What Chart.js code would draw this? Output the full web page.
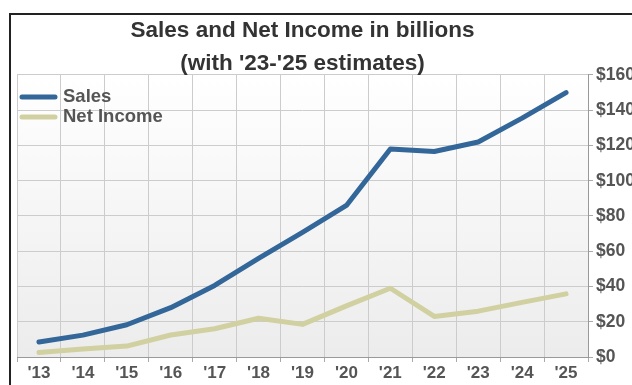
<!DOCTYPE html>
<html>
<head>
<meta charset="utf-8">
<script src="https://cdn.jsdelivr.net/npm/chart.js@4"></script>
<style>
  html, body { margin: 0; padding: 0; background: #fff; overflow: hidden; width: 632px; height: 385px; }
  #frame { position: absolute; left: 9px; top: 13px; width: 700px; height: 400px;
           border-left: 2px solid #222; border-top: 2px solid #222; }
  #chart { position: absolute; left: 0; top: 0; }
</style>
</head>
<body>
<div id="frame"></div>
<canvas id="chart" width="680" height="385"></canvas>
<script>
  // ── Veri ────────────────────────────────────────────────────────────────
  const years     = ["'13","'14","'15","'16","'17","'18","'19","'20","'21","'22","'23","'24","'25"];
  const sales     = [8.5, 12.4, 18.3, 28, 40.6, 56, 70.7, 86, 118, 116.6, 122, 135.5, 150];
  const netIncome = [2.5, 4.5, 6.2, 12.5, 16, 22, 18.5, 29, 39, 23, 26, 31, 35.8];
  const yTicks    = [0, 20, 40, 60, 80, 100, 120, 140, 160];

  const SALES_COLOR = "#336699";
  const NI_COLOR    = "#d1d0a0";
  const TEXT_GRAY   = "#555555";
  const FONT        = "'Liberation Sans', Arial, sans-serif";

  // plot alanı arka planı (beyaz → açık gri)
  const plotBg = {
    id: "plotBg",
    beforeDraw(chart) {
      const { ctx, chartArea: a } = chart;
      const g = ctx.createLinearGradient(0, a.top, 0, a.bottom);
      g.addColorStop(0, "#ffffff");
      g.addColorStop(1, "#ececec");
      ctx.save();
      ctx.fillStyle = g;
      ctx.fillRect(a.left, a.top, a.right - a.left, a.bottom - a.top);
      ctx.restore();
    },
  };

  // sol üstte grafik içi lejant
  const innerLegend = {
    id: "innerLegend",
    afterDatasetsDraw(chart) {
      const { ctx, chartArea: a } = chart;
      ctx.save();
      ctx.font = "bold 18.5px " + FONT;
      ctx.textBaseline = "middle";
      chart.data.datasets.forEach((ds, i) => {
        const y = a.top + 22 + i * 20;
        ctx.strokeStyle = ds.borderColor;
        ctx.lineWidth = 5;
        ctx.lineCap = "round";
        ctx.beginPath();
        ctx.moveTo(a.left + 5, y);
        ctx.lineTo(a.left + 38, y);
        ctx.stroke();
        ctx.fillStyle = TEXT_GRAY;
        ctx.fillText(ds.label, a.left + 46, y);
      });
      ctx.restore();
    },
  };

  new Chart(document.getElementById("chart"), {
    type: "line",
    data: {
      labels: years,
      datasets: [
        { label: "Sales", data: sales, borderColor: SALES_COLOR, borderWidth: 5,
          pointRadius: 0, tension: 0, borderCapStyle: "round", borderJoinStyle: "round" },
        { label: "Net Income", data: netIncome, borderColor: NI_COLOR, borderWidth: 5,
          pointRadius: 0, tension: 0, borderCapStyle: "round", borderJoinStyle: "round" },
      ],
    },
    options: {
      responsive: false,
      animation: false,
      layout: { padding: { left: 17, top: 0, right: 0, bottom: 0 } },
      plugins: {
        legend: { display: false },
        tooltip: { enabled: false },
        title: {
          display: true,
          fullSize: false,
          text: ["Sales and Net Income in billions", "(with '23-'25 estimates)"],
          color: "#333",
          font: { family: FONT, size: 22.5, weight: "bold", lineHeight: 1.444 },
          padding: { top: 15, bottom: -5 },
        },
      },
      scales: {
        x: {
          offset: true,
          grid: { offset: true, color: "#cccccc", tickColor: "#aaaaaa", tickLength: 5 },
          border: { color: "#999999" },
          ticks: {
            color: TEXT_GRAY, padding: 1,
            font: { family: FONT, size: 17, weight: "bold" },
          },
          afterFit(scale) { scale.height = 28; },
        },
        y: {
          position: "right",
          min: 0, max: 160,
          afterBuildTicks(scale) { scale.ticks = yTicks.map(v => ({ value: v })); },
          grid: { color: "#cccccc", tickColor: "#aaaaaa", tickLength: 5 },
          border: { color: "#999999" },
          ticks: {
            color: TEXT_GRAY, padding: 3,
            font: { family: FONT, size: 17.5, weight: "bold" },
            callback: v => "$" + v,
          },
          afterFit(scale) { scale.width = 92; },
        },
      },
    },
    plugins: [plotBg, innerLegend],
  });
</script>
</body>
</html>
